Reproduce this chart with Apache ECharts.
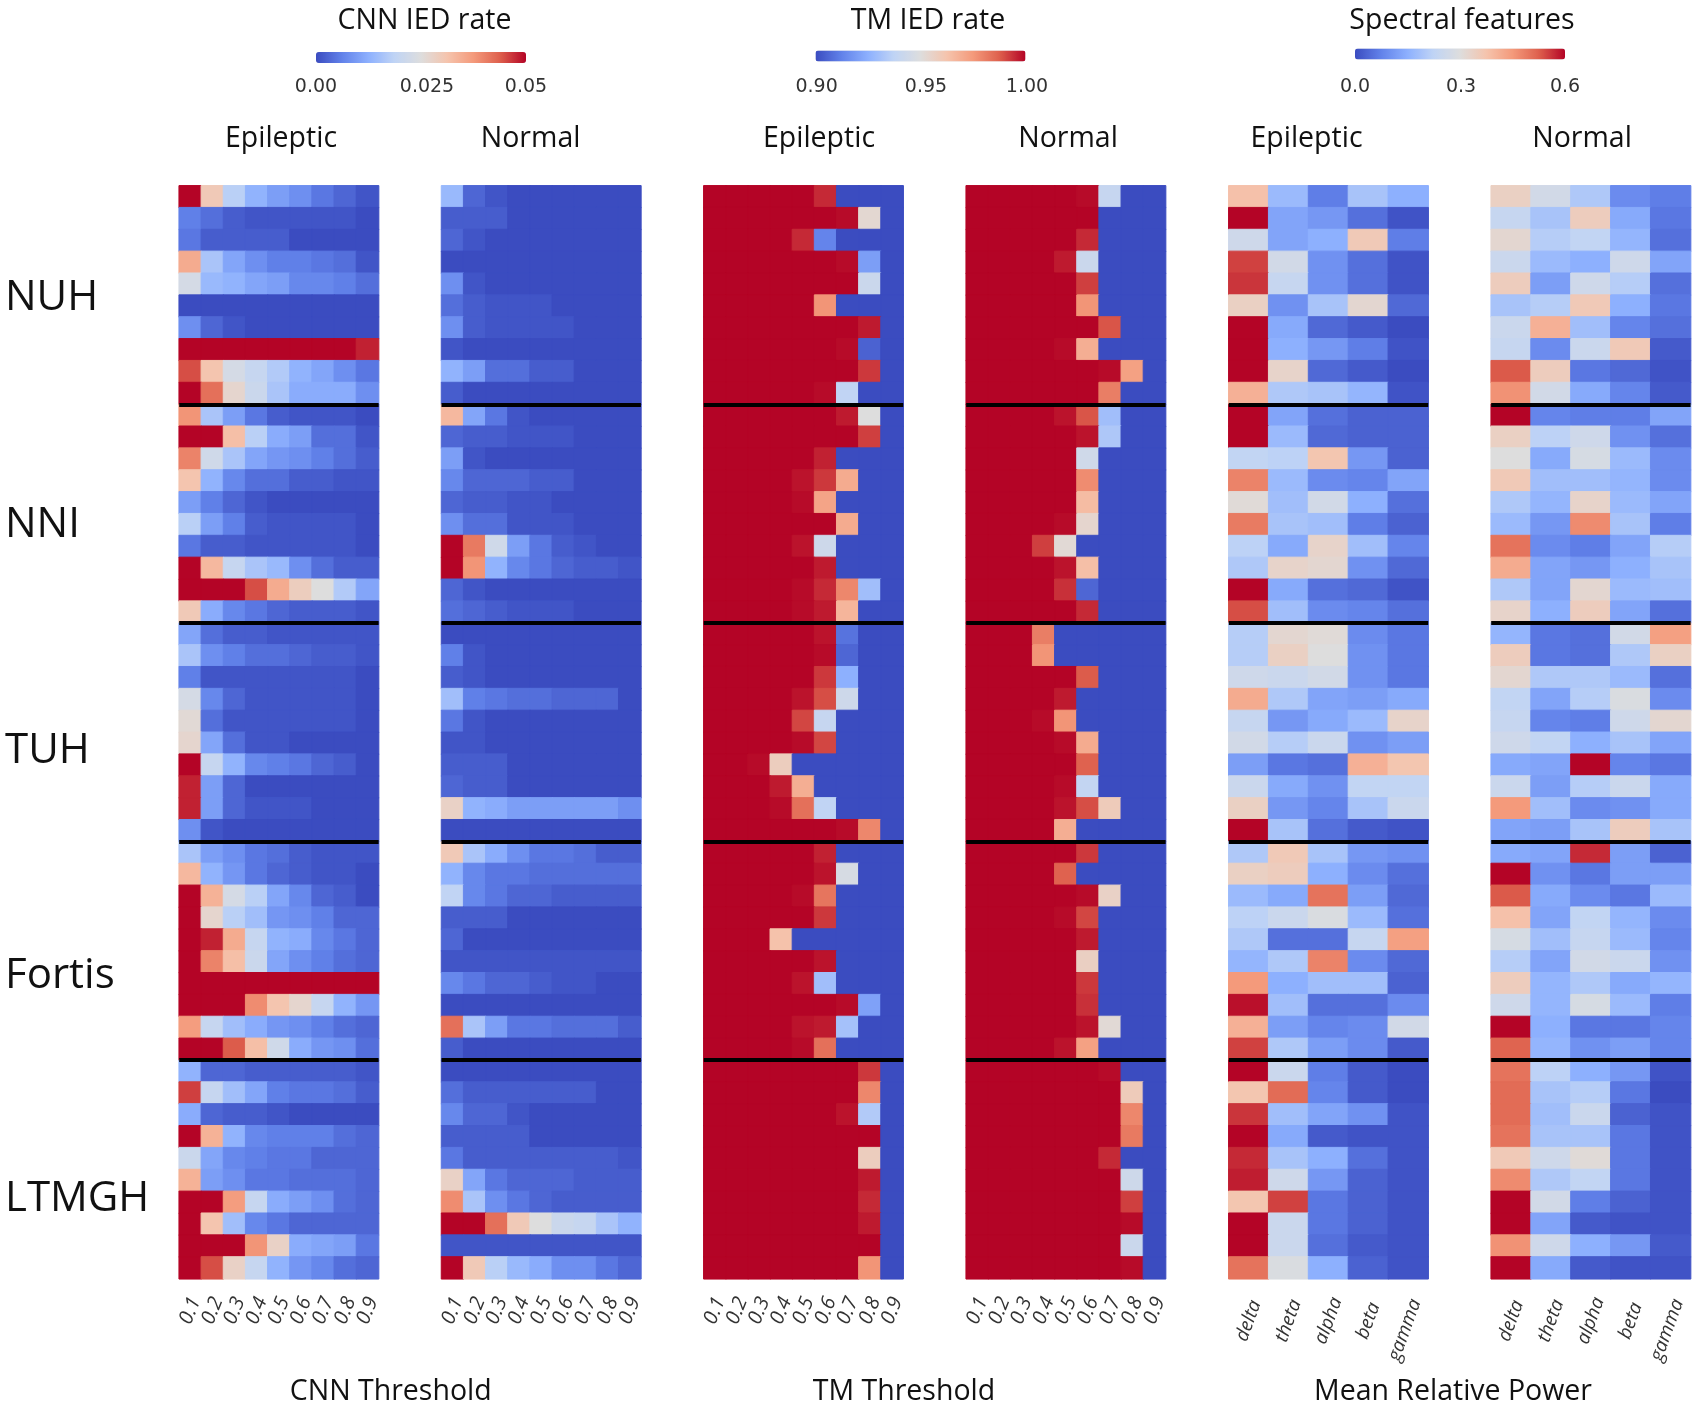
<!DOCTYPE html>
<html>
<head>
<meta charset="utf-8">
<style>html,body{margin:0;padding:0;background:#fff}#c{width:1698px;height:1408px}</style>
<script src="https://cdn.jsdelivr.net/npm/echarts@6/dist/echarts.min.js"></script>
</head>
<body>
<div id="c"></div>
<script>
const thresholds = ['0.1','0.2','0.3','0.4','0.5','0.6','0.7','0.8','0.9'];
const bands = ['delta','theta','alpha','beta','gamma'];
const sites = ['NUH','NNI','TUH','Fortis','LTMGH'];
const recordings = sites.flatMap(s => Array.from({length:10}, (_, i) => s + '-' + (i + 1)));

// CNN IED rate, per mille (50 = 0.05)
const cnnEpileptic = [
[50,30,18,13,10,8,5,3,1],[6,4,2,1,1,1,1,1,0],[5,2,2,2,2,0,0,0,0],[35,16,11,8,6,6,5,4,1],[23,14,13,11,10,7,7,6,4],
[0,0,0,0,0,0,0,0,0],[8,3,1,0,0,0,0,0,0],[50,50,50,50,50,50,50,50,48],[45,31,23,20,17,13,11,8,5],[50,42,27,21,16,12,12,12,8],
[38,16,10,5,2,1,1,1,0],[50,50,32,18,12,10,4,4,1],[40,22,16,11,9,8,6,4,2],[31,13,7,4,4,2,2,1,1],[10,6,3,1,0,0,0,0,0],
[18,10,6,2,1,1,1,1,0],[5,2,2,1,1,1,1,1,0],[50,33,20,16,14,8,4,2,2],[50,50,50,45,35,29,25,17,11],[30,12,7,5,3,2,2,2,1],
[11,4,2,2,1,1,1,1,1],[16,8,6,4,4,3,2,2,1],[6,1,1,1,1,1,1,1,0],[23,7,3,1,1,1,1,1,0],[26,4,1,1,1,1,1,1,0],
[27,11,4,1,1,0,0,0,0],[50,20,13,7,6,5,3,2,0],[48,10,3,0,0,0,0,0,0],[48,10,3,1,1,1,0,0,0],[8,1,0,0,0,0,0,0,0],
[16,10,8,5,4,2,1,1,1],[33,13,9,5,3,2,1,1,0],[50,34,23,18,11,7,3,2,0],[50,27,18,15,9,8,6,3,3],[50,48,35,20,13,12,7,5,3],
[50,40,32,21,11,8,6,4,3],[50,50,50,50,50,50,50,50,50],[50,50,50,39,31,27,20,13,9],[37,20,15,12,9,8,6,4,3],[50,50,44,32,22,12,9,8,4],
[13,3,3,2,2,2,2,2,1],[46,20,15,11,6,5,5,4,2],[12,3,2,2,1,0,0,0,0],[50,34,13,7,6,6,6,4,3],[21,11,7,6,5,5,3,3,3],
[34,10,8,5,5,4,4,4,3],[50,50,37,20,12,10,8,4,3],[50,31,15,7,5,3,3,3,3],[50,50,50,38,28,12,11,10,5],[50,45,28,20,13,9,7,4,3]
];
const cnnNormal = [
[14,3,1,0,0,0,0,0,0],[2,2,2,0,0,0,0,0,0],[3,1,0,0,0,0,0,0,0],[0,0,0,0,0,0,0,0,0],[8,1,0,0,0,0,0,0,0],
[4,2,1,1,1,0,0,0,0],[8,2,1,1,1,1,0,0,0],[1,0,0,0,0,0,0,0,0],[13,10,4,4,2,2,0,0,0],[2,0,0,0,0,0,0,0,0],
[33,11,5,1,0,0,0,0,0],[3,2,2,1,1,1,0,0,0],[10,1,0,0,0,0,0,0,0],[7,3,3,3,2,2,0,0,0],[3,2,2,1,1,0,0,0,0],
[8,4,4,1,1,1,0,0,0],[50,41,22,10,5,2,1,0,0],[50,38,13,7,5,3,2,2,1],[3,1,0,0,0,0,0,0,0],[4,3,2,1,1,1,0,0,0],
[0,0,0,0,0,0,0,0,0],[6,1,0,0,0,0,0,0,0],[2,1,0,0,0,0,0,0,0],[15,6,5,4,4,3,3,3,0],[5,1,0,0,0,0,0,0,0],
[1,1,0,0,0,0,0,0,0],[2,2,2,0,0,0,0,0,0],[3,2,2,0,0,0,0,0,0],[28,13,12,10,10,10,10,10,8],[0,0,0,0,0,0,0,0,0],
[30,16,12,8,5,5,4,2,2],[13,7,5,5,4,4,4,4,4],[19,7,5,3,3,2,2,2,2],[2,2,2,0,0,0,0,0,0],[3,0,0,0,0,0,0,0,0],
[1,1,1,1,1,1,1,1,1],[7,5,3,3,2,1,1,0,0],[0,0,0,0,0,0,0,0,0],[42,16,10,5,5,4,4,4,2],[2,0,0,0,0,0,0,0,0],
[0,0,0,0,0,0,0,0,0],[4,2,2,2,2,2,2,0,0],[7,3,3,1,0,0,0,0,0],[2,2,2,2,0,0,0,0,0],[5,2,2,2,2,2,2,2,1],
[28,11,5,3,3,3,2,2,2],[39,16,8,5,3,2,2,2,2],[50,50,42,30,25,21,20,16,13],[1,1,1,1,1,1,1,1,1],[50,30,18,14,12,8,8,5,3]
];

// TM IED rate, percent (100 = 1.00)
const tmEpileptic = [
[100,100,100,100,100,99.5,90,90,90],[100,100,100,100,100,100,99.9,95.3,90],[100,100,100,100,99.5,91.3,90,90,90],[100,100,100,100,100,100,99.9,92,90],[100,100,100,100,100,100,100,94.2,90],
[100,100,100,100,100,97.6,90,90,90],[100,100,100,100,100,100,100,99.7,90],[100,100,100,100,100,100,99.9,90.5,90],[100,100,100,100,100,100,100,99.3,90],[100,100,100,100,100,99.9,93.8,90,90],
[100,100,100,100,100,100,99.7,95,90],[100,100,100,100,100,100,100,99.2,90],[100,100,100,100,100,99.6,90,90,90],[100,100,100,100,99.8,99.3,97,90,90],[100,100,100,100,99.9,97.2,90,90,90],
[100,100,100,100,100,100,97,90,90],[100,100,100,100,99.8,94.3,90,90,90],[100,100,100,100,100,99.7,90,90,90],[100,100,100,100,99.9,99.5,97.9,93,90],[100,100,100,100,99.9,99.7,96.7,90,90],
[100,100,100,100,100,99.8,90.9,90,90],[100,100,100,100,100,99.9,90.6,90,90],[100,100,100,100,100,99.3,92.5,90,90],[100,100,100,100,99.8,99,94.3,90,90],[100,100,100,100,99.1,94,90,90,90],
[100,100,100,100,99.9,99.1,90,90,90],[100,100,99.9,95.8,90,90,90,90,90],[100,100,100,99.7,96.9,90,90,90,90],[100,100,100,99.9,98.4,93.8,90,90,90],[100,100,100,100,100,100,99.9,97.9,90],
[100,100,100,100,100,99.6,90,90,90],[100,100,100,100,100,99.8,94.7,90,90],[100,100,100,100,99.9,98.3,90,90,90],[100,100,100,100,100,99.3,90,90,90],[100,100,100,96.3,90,90,90,90,90],
[100,100,100,100,100,99.8,90,90,90],[100,100,100,100,99.8,93,90,90,90],[100,100,100,100,100,100,99.9,92.1,90],[100,100,100,100,99.8,99.7,93.1,90,90],[100,100,100,100,99.9,98.4,90,90,90],
[100,100,100,100,100,100,100,99.3,90],[100,100,100,100,100,100,100,97.9,90],[100,100,100,100,100,100,99.8,93.4,90],[100,100,100,100,100,100,100,100,90],[100,100,100,100,100,100,100,95.8,90],
[100,100,100,100,100,100,100,99.7,90],[100,100,100,100,100,100,100,99.5,90],[100,100,100,100,100,100,100,99.7,90],[100,100,100,100,100,100,100,100,90],[100,100,100,100,100,100,100,97.6,90]
];
const tmNormal = [
[100,100,100,100,100,99.9,94,90,90],[100,100,100,100,100,100,90,90,90],[100,100,100,100,100,99.5,90,90,90],[100,100,100,100,99.7,94.2,90,90,90],[100,100,100,100,100,99.2,90,90,90],
[100,100,100,100,100,97.6,90,90,90],[100,100,100,100,100,100,98.9,90,90],[100,100,100,100,99.9,96.9,90,90,90],[100,100,100,100,100,100,99.9,97.3,90],[100,100,100,100,100,100,98.1,90,90],
[100,100,100,100,99.8,98.9,93,90,90],[100,100,100,100,100,99.8,93.3,90,90],[100,100,100,100,100,94.4,90,90,90],[100,100,100,100,100,97.8,90,90,90],[100,100,100,100,100,96.5,90,90,90],
[100,100,100,100,99.9,95.4,90,90,90],[100,100,100,99.2,95.2,90,90,90,90],[100,100,100,100,99.8,96.4,90,90,90],[100,100,100,100,99.4,90.6,90,90,90],[100,100,100,100,100,99.5,90,90,90],
[100,100,100,98.1,90,90,90,90,90],[100,100,100,97.6,90,90,90,90,90],[100,100,100,100,100,98.8,90,90,90],[100,100,100,100,99.7,90,90,90,90],[100,100,100,99.9,97.6,90,90,90,90],
[100,100,100,100,99.9,97,90,90,90],[100,100,100,100,100,98.7,90,90,90],[100,100,100,100,99.9,93.9,90,90,90],[100,100,100,100,99.8,99,95.9,90,90],[100,100,100,100,96.9,90,90,90,90],
[100,100,100,100,100,99.3,90,90,90],[100,100,100,100,98.7,90,90,90,90],[100,100,100,100,100,99.9,95.6,90,90],[100,100,100,100,99.9,99.1,90,90,90],[100,100,100,100,100,99.7,90,90,90],
[100,100,100,100,100,95.7,90,90,90],[100,100,100,100,100,99.3,90,90,90],[100,100,100,100,100,99.4,90,90,90],[100,100,100,100,100,99.8,95.2,90,90],[100,100,100,100,99.8,97.3,90,90,90],
[100,100,100,100,100,100,99.9,90,90],[100,100,100,100,100,100,100,95.9,90],[100,100,100,100,100,100,100,97.9,90],[100,100,100,100,100,100,100,98.2,90],[100,100,100,100,100,100,99.5,90,90],
[100,100,100,100,100,100,100,94.3,90],[100,100,100,100,100,100,100,99.2,90],[100,100,100,100,100,100,100,99.9,90],[100,100,100,100,100,100,100,94.2,90],[100,100,100,100,100,100,100,99.9,90]
];

// Mean relative power, percent (60 = 0.6)
const specEpileptic = [
[38,17,7,19,15],[60,13,11,5,1],[26,13,15,36,7],[55,27,10,5,1],[56,24,10,5,1],
[34,10,19,32,4],[60,14,4,2,0],[60,15,11,7,1],[60,33,4,2,0],[41,20,19,16,1],
[60,13,5,3,3],[60,17,4,3,3],[23,22,37,11,3],[48,17,9,8,13],[31,18,27,15,5],
[49,19,18,7,3],[22,14,33,18,8],[20,33,32,10,4],[60,14,5,4,1],[54,18,9,8,5],
[21,32,31,9,6],[21,34,30,10,6],[26,25,27,10,6],[42,20,13,12,14],[24,11,14,17,33],
[27,21,25,10,12],[12,6,5,41,37],[25,14,10,23,23],[34,11,8,19,25],[60,19,5,2,1],
[20,36,19,11,10],[34,35,15,9,5],[17,14,50,12,4],[22,25,29,17,5],[20,5,5,24,44],
[16,20,48,9,4],[45,15,18,18,3],[59,18,5,5,9],[41,12,8,9,27],[55,20,12,9,2],
[60,25,7,2,0],[37,51,8,2,0],[56,18,13,10,1],[60,14,2,1,1],[57,19,15,5,1],
[58,26,11,3,1],[37,55,6,3,1],[60,25,6,3,1],[60,25,5,2,1],[50,29,15,3,1]
];
const specNormal = [
[34,27,20,9,7],[24,19,35,14,6],[32,21,23,16,5],[25,17,15,26,13],[35,12,26,21,5],
[19,21,36,15,6],[25,41,18,8,5],[24,9,25,36,2],[53,35,6,4,1],[46,27,14,8,2],
[60,8,7,7,13],[34,22,26,10,5],[30,14,28,17,9],[36,18,18,16,9],[20,16,33,17,13],
[17,11,47,19,7],[50,9,7,13,21],[42,13,11,15,19],[20,13,32,17,18],[33,15,35,13,5],
[16,6,5,27,44],[35,6,5,20,34],[32,20,20,17,5],[23,13,21,29,9],[24,8,7,26,32],
[26,23,15,19,13],[14,13,60,8,6],[25,12,21,25,14],[45,18,9,10,14],[13,12,19,35,19],
[14,13,57,12,3],[60,10,6,12,12],[53,14,9,6,17],[38,13,23,16,9],[28,18,24,17,8],
[21,13,27,25,10],[35,16,20,14,16],[26,16,28,17,7],[60,15,6,6,8],[52,16,10,12,8],
[50,22,15,11,1],[51,19,21,6,0],[51,18,25,3,1],[50,19,19,6,1],[36,26,31,6,1],
[47,20,23,6,1],[60,27,7,3,1],[60,13,2,1,1],[46,26,15,11,2],[60,14,2,1,1]
];

const coolwarm = ['#3b4cc0','#6282ea','#8db0fe','#c0d4f5','#dddddd','#f5c4ad','#f49a7b','#de604d','#b40426'];
const textFont = '"Open Sans", "Noto Sans", sans-serif';
const tickFont = '"DejaVu Sans", sans-serif';

const panels = [
  {values: cnnEpileptic,  cols: thresholds, left: 179.2,  min: 0,  max: 50},
  {values: cnnNormal,     cols: thresholds, left: 441.5,  min: 0,  max: 50},
  {values: tmEpileptic,   cols: thresholds, left: 703.8,  min: 90, max: 100},
  {values: tmNormal,      cols: thresholds, left: 966.2,  min: 90, max: 100},
  {values: specEpileptic, cols: bands,      left: 1228.8, min: 0,  max: 60},
  {values: specNormal,    cols: bands,      left: 1491.2, min: 0,  max: 60}
];
const gridTop = 185.8, gridH = 1093, gridW = 199.4;

const grids = panels.map(p => ({left: p.left, top: gridTop, width: gridW, height: gridH, containLabel: false}));
const xAxes = panels.map((p, i) => ({
  type: 'category', gridIndex: i, position: 'bottom',
  data: p.cols.map(c => c === 'gamma'
    ? {value: c, textStyle: {align: 'center', verticalAlign: 'middle', padding: [0, 20, 0, 0]}}
    : c),
  axisLine: {show: false}, axisTick: {show: false}, splitLine: {show: false},
  axisLabel: {
    interval: 0, rotate: p.cols === bands ? 70 : 68, align: 'center', verticalAlign: 'middle',
    margin: p.cols === bands ? 42 : 32, fontSize: p.cols === bands ? 19 : 20,
    fontFamily: textFont, fontStyle: 'italic', color: '#333'
  }
}));
const yAxes = panels.map((p, i) => ({
  type: 'category', gridIndex: i, data: recordings, inverse: true, z: 10,
  axisLine: {show: false}, axisTick: {show: false}, axisLabel: {show: false},
  splitLine: {
    show: true, showMaxLine: false,
    interval: idx => idx > 0 && idx < 50 && idx % 10 === 0,
    lineStyle: {color: '#000', width: 4}
  }
}));
const series = panels.map((p, i) => ({
  type: 'heatmap', xAxisIndex: i, yAxisIndex: i, progressive: 0, silent: true,
  data: p.values.flatMap((row, r) => row.map((v, c) => {
    const colour = echarts.color.lerp((v - p.min) / (p.max - p.min), coolwarm);
    return {value: [c, r, v], itemStyle: {color: colour, borderColor: colour, borderWidth: 1}};
  }))
}));
const bar = (seriesIndex, min, max, left, top) => ({
  type: 'continuous', seriesIndex, min, max, orient: 'horizontal', left, top, padding: 0,
  itemWidth: 11, itemHeight: 210, calculable: false, hoverLink: false, show: true,
  text: null, inRange: {color: coolwarm}
});
const txt = (text, x, y, size, font, color) => ({
  type: 'text', x, y, silent: true,
  style: {text, fontSize: size, fontFamily: font, fill: color, align: 'center', verticalAlign: 'middle'}
});
const headings = [['CNN IED rate',424.5],['TM IED rate',928],['Spectral features',1462]];
const columnsHead = [['Epileptic',281],['Normal',530.6],['Epileptic',819],['Normal',1068],['Epileptic',1306.5],['Normal',1582]];
const barTicks = [['0.00',316],['0.025',427],['0.05',526],['0.90',816.6],['0.95',926],['1.00',1027],['0.0',1355],['0.3',1461],['0.6',1565]];
const xTitles = [['CNN Threshold',390.7],['TM Threshold',904],['Mean Relative Power',1453]];
const sideLabels = [['NUH',298],['NNI',525],['TUH',751],['Fortis',976],['LTMGH',1199]];

const graphic = [
  ...headings.map(([t, x]) => txt(t, x, 21, 28.5, textFont, '#111')),
  ...columnsHead.map(([t, x]) => txt(t, x, 139, 28.5, textFont, '#111')),
  ...barTicks.map(([t, x]) => txt(t, x, 87, 19, tickFont, '#333')),
  ...xTitles.map(([t, x]) => txt(t, x, 1392, 28.5, textFont, '#111')),
  ...sideLabels.map(([t, y]) => ({
    type: 'text', x: 5, y, silent: true,
    style: {text: t, fontSize: 42, fontFamily: textFont, fill: '#111', align: 'left', verticalAlign: 'middle'}
  }))
];

const chart = echarts.init(document.getElementById('c'), null, {renderer: 'canvas', width: 1698, height: 1408});
chart.setOption({
  animation: false, backgroundColor: '#fff', tooltip: {show: false},
  grid: grids, xAxis: xAxes, yAxis: yAxes, series,
  visualMap: [bar([0,1], 0, 50, 316, 52), bar([2,3], 90, 100, 815.5, 50.5), bar([4,5], 0, 60, 1355, 48.5)],
  graphic
});
</script>
</body>
</html>
